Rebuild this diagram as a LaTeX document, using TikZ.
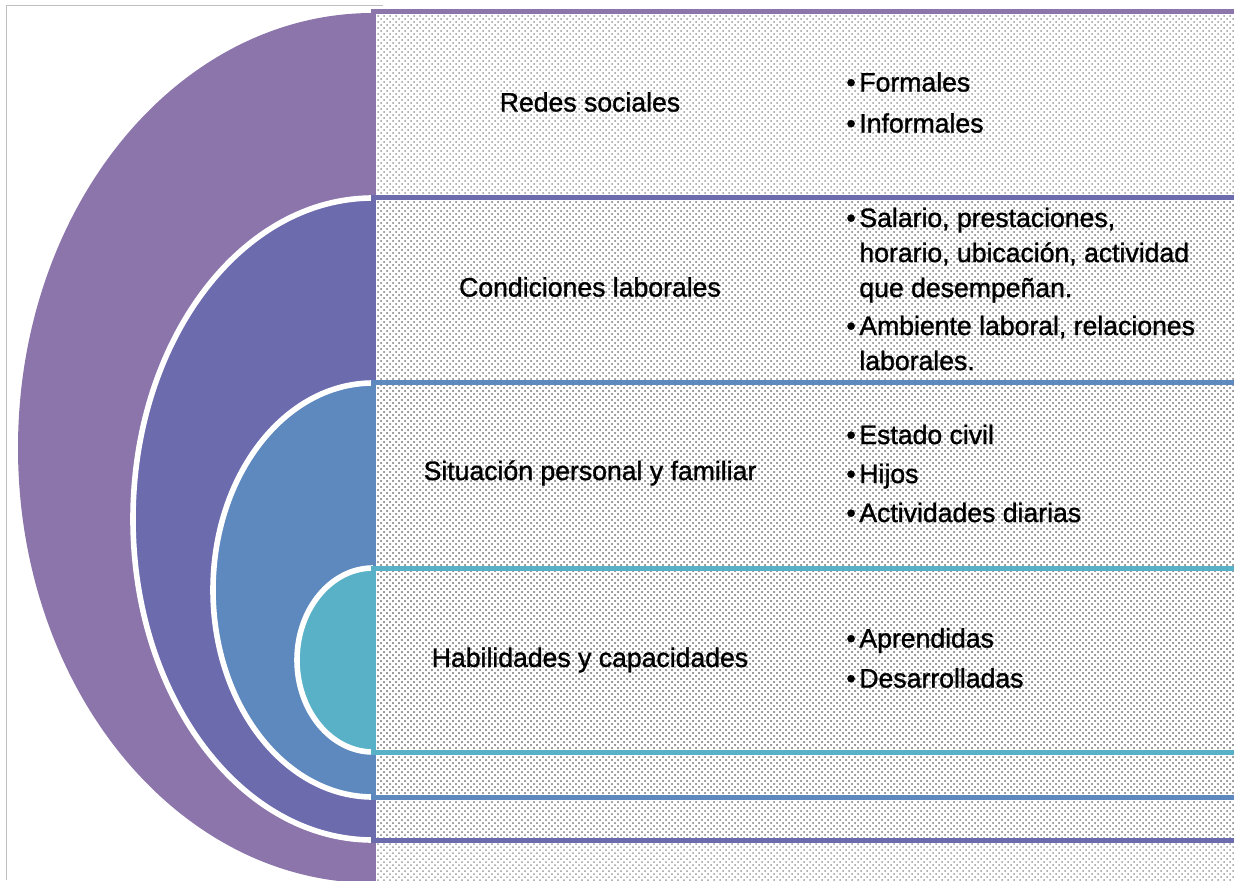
\documentclass[tikz,border=0pt]{standalone}
\usepackage{fontspec}
\setmainfont{Liberation Sans}
\newfontfamily\heavyfont{Liberation Sans}[FakeBold=1.2]
\usetikzlibrary{patterns}
\definecolor{ringA}{HTML}{8B75AA}
\definecolor{ringB}{HTML}{6B6BAE}
\definecolor{ringC}{HTML}{5D89BE}
\definecolor{ringD}{HTML}{58B1C6}
\tikzstyle{band} = [
    pattern=crosshatch dots,
    pattern color=black!40,
    line width=2.5pt
]
\tikzstyle{gap} = [draw=white, line width=2.8pt]
\tikzstyle{topic} = [
    font=\heavyfont\fontsize{13.3}{17.5}\selectfont,
    inner sep=0pt
]
\tikzstyle{details} = [
    font=\heavyfont\fontsize{13.3}{17.5}\selectfont,
    align=left,
    anchor=west,
    inner sep=0pt
]
\newcommand{\bul}{\makebox[6.5pt][l]{\textbullet}}
\newcommand{\ind}{\hspace*{6.5pt}}

\begin{document}
\begin{tikzpicture}[x=0.5pt,y=0.5pt]
\useasboundingbox (0,0) rectangle (1234,880);

% frame
\draw [black!25] (6,0) -- (6,875) -- (383,875);

% outer ring
\fill [ringA] (373,867) arc [start angle=90, end angle=270, x radius=355, y radius=435] -- cycle;
\draw [band, draw=ringA] (373,-30) rectangle (1260,868);

% second ring
\fill [ringB] (373,682) arc [start angle=90, end angle=270, x radius=240, y radius=321] -- cycle;
\draw [gap] (373,682) arc [start angle=90, end angle=270, x radius=240, y radius=321];
\draw [band, draw=ringB] (373,40) rectangle (1260,683);

% third ring
\fill [ringC] (373,497) arc [start angle=90, end angle=270, x radius=160, y radius=207] -- cycle;
\draw [gap] (373,497) arc [start angle=90, end angle=270, x radius=160, y radius=207];
\draw [band, draw=ringC] (373,83) rectangle (1260,498);

% inner ring
\fill [ringD] (373,312) arc [start angle=90, end angle=270, x radius=76, y radius=92] -- cycle;
\draw [gap] (373,312) arc [start angle=90, end angle=270, x radius=76, y radius=92];
\draw [band, draw=ringD] (373,128) rectangle (1260,312);

% topics
\node (redes) [topic] at (590,778) {Redes sociales};
\node (condiciones) [topic] at (590,593) {Condiciones laborales};
\node (situacion) [topic] at (590,407) {Situación personal y familiar};
\node (habilidades) [topic] at (590,220) {Habilidades y capacidades};

% details
\node (redesList) [details] at (846,777.5)
{\bul Formales\\[3pt]
 \bul Informales};

\node (condicionesList) [details] at (846,591)
{\bul Salario, prestaciones,\\
 \ind horario, ubicación, actividad\\
 \ind que desempeñan.\\[1.5pt]
 \bul Ambiente laboral, relaciones\\
 \ind laborales.};

\node (situacionList) [details] at (846,406.5)
{\bul Estado civil\\[2pt]
 \bul Hijos\\[2pt]
 \bul Actividades diarias};

\node (habilidadesList) [details] at (846,222)
{\bul Aprendidas\\[2.5pt]
 \bul Desarrolladas};

\end{tikzpicture}
\end{document}
